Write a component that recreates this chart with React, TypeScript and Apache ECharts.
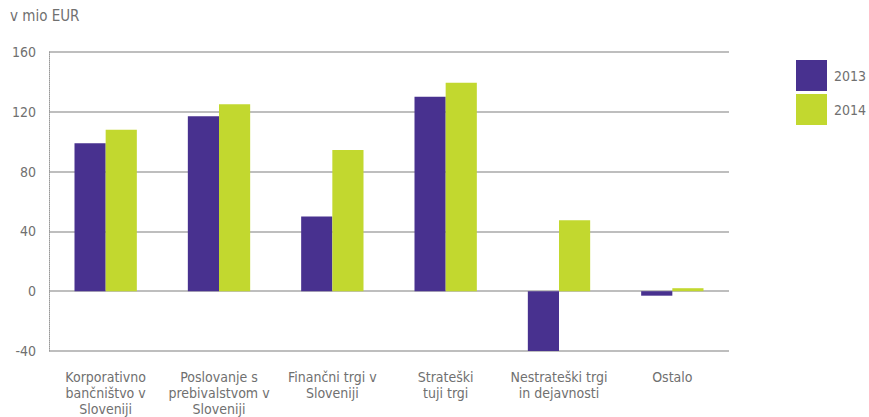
import React, { useEffect, useRef } from "react";
import * as echarts from "echarts";

const categories = [
  "Korporativno\nbančništvo v\nSloveniji",
  "Poslovanje s\nprebivalstvom v\nSloveniji",
  "Finančni trgi v\nSloveniji",
  "Strateški\ntuji trgi",
  "Nestrateški trgi\nin dejavnosti",
  "Ostalo",
];
const values2013 = [99, 117, 50, 130, -40, -3];
const values2014 = [108, 125, 94.5, 139.5, 47.5, 2];
const seriesNames = ["2013", "2014"];
const unitLabel = "v mio EUR";

const FONT = "'DejaVu Sans Condensed', 'Open Sans', sans-serif";
const TEXT = "#707070";
const FS = 14;

export default function App() {
  const ref = useRef<HTMLDivElement>(null);
  useEffect(() => {
    const chart = echarts.init(ref.current!, undefined, { renderer: "svg" });
    chart.setOption({
      animation: false,
      textStyle: { fontFamily: FONT },
      graphic: [
        {
          type: "text",
          left: 10,
          top: 8,
          style: { text: unitLabel, fill: TEXT, font: `15px ${FONT}` },
        },
      ],
      legend: {
        orient: "vertical",
        left: 791,
        top: 55,
        itemWidth: 31,
        itemHeight: 31,
        itemGap: 3,
        icon: "rect",
        textStyle: { color: TEXT, fontSize: FS, fontFamily: FONT, padding: [12, 0, 0, 2] },
        data: seriesNames,
      },
      grid: { left: 49, right: 140, top: 52, bottom: 62, containLabel: false },
      xAxis: {
        type: "category",
        data: categories,
        axisLine: { show: false },
        axisTick: { show: false },
        axisLabel: {
          color: TEXT,
          fontSize: FS,
          fontFamily: FONT,
          lineHeight: 16,
          margin: 18,
          interval: 0,
        },
      },
      yAxis: {
        type: "value",
        min: -40,
        max: 160,
        interval: 40,
        axisLine: { show: true, lineStyle: { color: "#999", type: "dotted", width: 1 } },
        axisTick: { show: false },
        axisLabel: { color: TEXT, fontSize: FS, fontFamily: FONT, margin: 13 },
        splitLine: { lineStyle: { color: "#a8a8a8", width: 1.5 } },
      },
      series: [
        {
          name: seriesNames[0],
          type: "bar",
          data: values2013,
          itemStyle: { color: "#48318f" },
          barGap: "0%",
          barCategoryGap: "45%",
        },
        {
          name: seriesNames[1],
          type: "bar",
          data: values2014,
          itemStyle: { color: "#c2d82f" },
          barGap: "0%",
          barCategoryGap: "45%",
        },
      ],
    });
    return () => chart.dispose();
  }, []);
  return <div ref={ref} style={{ width: 869, height: 417, position: "absolute", left: 0, top: 0 }} />;
}
